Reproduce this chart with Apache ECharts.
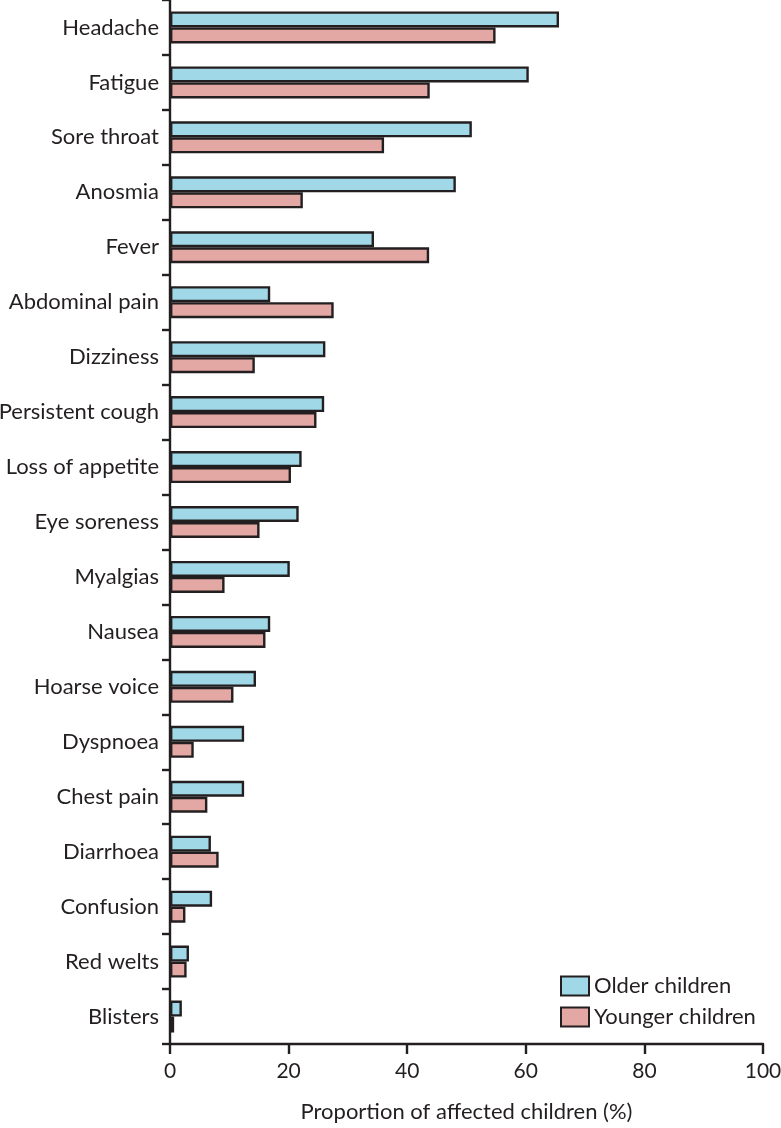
<!DOCTYPE html>
<html>
<head>
<meta charset="utf-8">
<script src="https://cdn.jsdelivr.net/npm/echarts@6/dist/echarts.min.js"></script>
<style>
  html, body { margin: 0; padding: 0; background: #fff; }
  #chart { width: 781px; height: 1128px; }
</style>
</head>
<body>
<div id="chart"></div>
<script>
// symptom names, top to bottom
const symptoms = [
  'Headache', 'Fatigue', 'Sore throat', 'Anosmia', 'Fever', 'Abdominal pain',
  'Dizziness', 'Persistent cough', 'Loss of appetite', 'Eye soreness', 'Myalgias',
  'Nausea', 'Hoarse voice', 'Dyspnoea', 'Chest pain', 'Diarrhoea', 'Confusion',
  'Red welts', 'Blisters'
]

// proportion of affected children (%)
const olderChildren = [
  65.6, 60.5, 50.9, 48.2, 34.4, 16.9,
  26.2, 26.0, 22.2, 21.7, 20.2,
  16.9, 14.5, 12.5, 12.5, 6.9, 7.1,
  3.2, 2.0
]
const youngerChildren = [
  54.9, 43.8, 36.1, 22.4, 43.7, 27.6,
  14.3, 24.7, 20.4, 15.1, 9.2,
  16.1, 10.7, 4.0, 6.3, 8.2, 2.6,
  2.8, 0.7
]

const xTicks = [0, 20, 40, 60, 80, 100]

const ink = '#231f20'
const font = 'Lato'
const fontSize = 22

const chart = echarts.init(document.getElementById('chart'))

const barStyle = (color) => ({
  color: color,
  borderColor: ink,
  borderWidth: 2.4
})

const option = {
  animation: false,
  textStyle: { fontFamily: font, color: ink },
  grid: {
    left: 170, right: 18, top: 0, bottom: 84,
    containLabel: false,
    outerBoundsMode: 'none'
  },
  legend: {
    orient: 'vertical',
    left: 560,
    top: 975,
    padding: 0,
    itemWidth: 28,
    itemHeight: 19,
    itemGap: 9,
    icon: 'rect',
    textStyle: { fontFamily: font, fontSize: fontSize, color: ink },
    data: ['Older children', 'Younger children']
  },
  xAxis: {
    type: 'value',
    min: xTicks[0],
    max: xTicks[xTicks.length - 1],
    interval: 20,
    name: 'Proportion of affected children (%)',
    nameLocation: 'middle',
    nameGap: 57,
    nameTextStyle: { fontFamily: font, fontSize: fontSize, color: ink },
    axisLine: { show: true, lineStyle: { color: ink, width: 2.4 } },
    axisTick: { show: true, length: 10, lineStyle: { color: ink, width: 2.4 } },
    axisLabel: { fontFamily: font, fontSize: 21, color: ink, margin: 17, hideOverlap: false },
    splitLine: { show: false }
  },
  yAxis: {
    type: 'category',
    inverse: true,
    data: symptoms,
    axisLine: { show: true, lineStyle: { color: ink, width: 2.4 } },
    axisTick: { show: true, length: 8, lineStyle: { color: ink, width: 2.4 } },
    axisLabel: { fontFamily: font, fontSize: fontSize, color: ink, margin: 11 }
  },
  series: [
    {
      name: 'Older children',
      type: 'bar',
      data: olderChildren,
      barWidth: 16,
      barGap: '0%',
      itemStyle: barStyle('#a0d8e8')
    },
    {
      name: 'Younger children',
      type: 'bar',
      data: youngerChildren,
      barWidth: 16,
      barGap: '0%',
      itemStyle: barStyle('#e3a8a4')
    }
  ]
}

chart.setOption(option)
</script>
</body>
</html>
